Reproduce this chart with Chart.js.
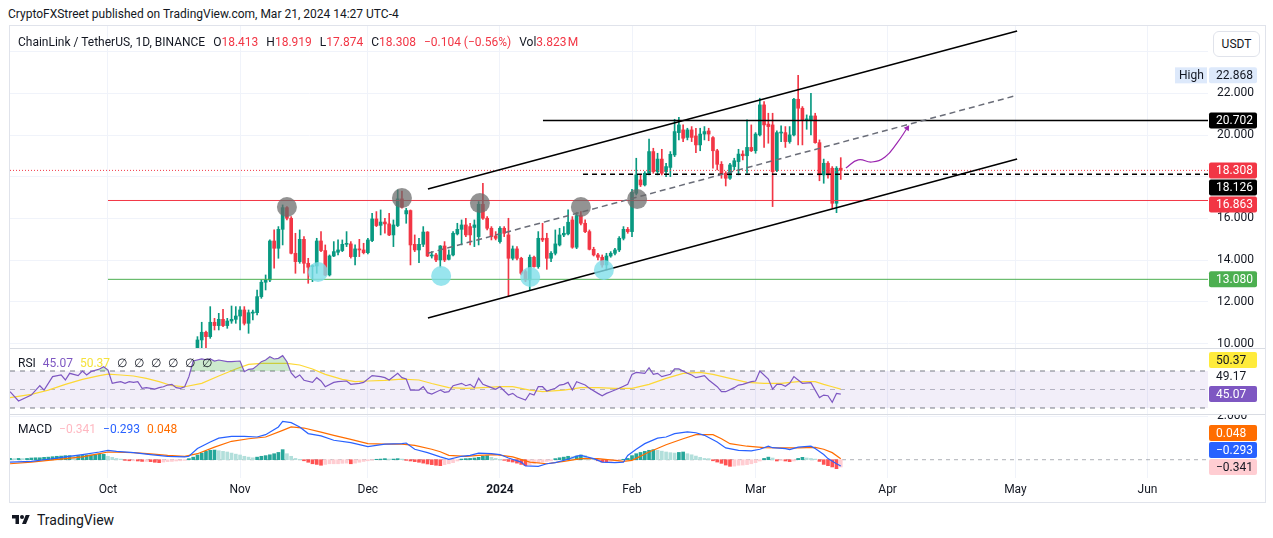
<!DOCTYPE html>
<html>
<head>
<meta charset="utf-8">
<title>ChainLink / TetherUS 1D</title>
<script src="https://cdn.jsdelivr.net/npm/chart.js@4.4.1/dist/chart.umd.min.js"></script>
<style>
  html, body { margin: 0; padding: 0; background: #fff; }
  body { width: 1273px; height: 538px; position: relative; overflow: hidden;
         font-family: Roboto, "Noto Sans", sans-serif; color: #131722; }
  .abs { position: absolute; white-space: nowrap; }
  canvas { position: absolute; }
  #published { left: 8px; top: 7px; font-size: 12px; }
  #frame { left: 9px; top: 25px; width: 1257px; height: 478px; border: 1px solid #e0e3eb; box-sizing: border-box; }
  .sep { position: absolute; left: 10px; width: 1255px; height: 1px; background: #d9dce3; }
  #legend { left: 18px; top: 35px; font-size: 12px; }
  #legend span { margin-right: 8px; }
  #legend b, #legend i { font-weight: normal; font-style: normal; color: #f23645; }
  #usdt { left: 1213px; top: 31px; width: 45px; height: 24px; border: 1px solid #e0e3eb; border-radius: 6px;
          font-size: 12px; line-height: 24px; text-align: center; background: #fff; }
  #rsiLegend { left: 18px; top: 356px; font-size: 12px; }
  #rsiLegend span { margin-right: 7px; }
  #macdLegend { left: 18px; top: 422px; font-size: 12px; }
  #macdLegend span { margin-right: 7px; }
  #logo { left: 10px; top: 512px; font-size: 14px; display: flex; align-items: center; }
  #logo svg { margin-right: 5px; }
</style>
</head>
<body>
<div id="published" class="abs">CryptoFXStreet published on TradingView.com, Mar 21, 2024 14:27 UTC-4</div>
<div id="frame" class="abs"></div>

<canvas id="mainChart" width="1255" height="322" style="left:10px;top:26px"></canvas>
<canvas id="rsiChart" width="1255" height="65" style="left:10px;top:349px"></canvas>
<canvas id="macdChart" width="1255" height="87" style="left:10px;top:415px"></canvas>

<div class="sep" style="top:348px"></div>
<div class="sep" style="top:414px"></div>

<div id="legend" class="abs"><span>ChainLink / TetherUS, 1D, BINANCE</span><span>O<b>18.413</b></span><span>H<b>18.919</b></span><span>L<b>17.874</b></span><span>C<b>18.308</b></span><span><i>&minus;0.104 (&minus;0.56%)</i></span><span>Vol<b>3.823&#8202;M</b></span></div>
<div id="usdt" class="abs">USDT</div>

<div id="rsiLegend" class="abs"><span>RSI</span><span style="color:#7e57c2">45.07</span><span style="color:#f5e23c">50.37</span><span>&empty;</span><span>&empty;</span><span>&empty;</span><span>&empty;</span><span>&empty;</span><span>&empty;</span></div>
<div id="macdLegend" class="abs"><span>MACD</span><span style="color:#ffb8c1">&minus;0.341</span><span style="color:#2962ff">&minus;0.293</span><span style="color:#ff6d00">0.048</span></div>

<div id="logo" class="abs">
  <svg width="22" height="14" viewBox="0 0 36 28"><path d="M14 22H7V11H0V4h14v18zM28 22h-8l7.5-18h8L28 22z" fill="#131722"/><circle cx="20" cy="8" r="4" fill="#131722"/></svg>
  <span>TradingView</span>
</div>

<script>
// ---- data (days counted from 1 Oct 2023) ----
const monthTicks = [0, 31, 61, 92, 123, 152, 183, 213, 244];
const monthLabels = ['Oct', 'Nov', 'Dec', '2024', 'Feb', 'Mar', 'Apr', 'May', 'Jun'];
const priceTicks = [10, 12, 14, 16, 18, 20, 22, 24];
const hiddenPriceTicks = [18, 24];

const firstCandleDay = 21;
const opens = [9.77,10.17,10.54,10.33,11.02,10.86,11.16,10.86,11.08,11.16,11.32,11.61,10.97,11.46,11.48,12.25,12.94,13.05,14.92,14.57,
  15.48,16.52,16.01,14.33,13.93,15.00,13.85,13.69,13.72,14.92,14.46,13.29,14.20,14.38,14.46,14.76,14.78,14.17,14.54,14.49,
  14.36,14.94,15.98,15.67,15.83,15.74,15.21,15.66,16.94,16.22,16.38,14.76,14.49,14.76,15.35,14.20,14.25,14.01,14.68,14.04,
  14.25,15.26,15.48,15.69,15.61,15.57,15.13,16.68,16.01,15.53,15.16,14.89,15.53,15.21,14.09,14.54,14.09,13.45,13.05,14.14,
  13.69,15.05,15.05,14.09,14.33,14.73,15.21,15.26,15.93,14.62,16.14,15.77,15.37,14.52,14.25,14.14,13.77,14.20,14.33,14.49,
  15.05,15.48,15.37,17.21,17.85,17.61,18.17,19.21,18.25,18.85,18.25,18.45,19.05,20.12,20.25,19.89,20.25,19.96,19.53,20.05,
  20.20,19.88,19.25,18.60,18.17,17.93,18.49,18.73,19.09,19.01,19.41,19.25,20.01,21.45,20.53,20.49,18.30,20.10,20.12,19.69,
  20.01,21.72,21.29,20.73,20.73,20.92,19.64,18.09,18.65,18.41,16.73,18.413];
const highs = [10.33,11.02,10.60,11.77,11.21,11.45,11.64,11.21,11.80,11.77,11.77,11.77,11.61,11.61,12.57,13.05,13.29,14.97,15.45,15.61,
  16.65,16.57,16.09,15.29,15.45,15.13,14.09,13.77,15.05,15.37,14.73,14.25,14.89,14.97,14.97,15.37,14.89,14.73,15.00,14.81,
  15.05,16.25,16.33,16.41,16.01,16.25,15.93,17.37,17.32,16.49,16.41,15.21,15.05,15.61,15.37,14.41,14.33,14.70,14.89,14.49,
  15.37,15.77,15.93,16.01,15.77,15.93,16.81,17.69,16.09,15.61,15.37,15.61,15.61,16.01,14.68,14.65,14.14,13.53,14.25,14.20,
  15.37,15.77,15.29,14.41,15.45,15.53,15.61,16.41,16.09,16.28,16.33,15.93,15.45,14.62,14.33,14.25,14.33,14.41,14.57,15.13,
  15.61,15.57,17.40,18.89,18.09,18.25,19.81,19.37,19.13,19.32,18.65,19.21,20.76,20.85,20.49,20.33,20.41,20.33,20.33,20.41,
  20.33,19.93,19.32,18.73,18.25,18.65,18.89,19.32,19.25,20.73,20.49,20.12,21.77,21.61,21.05,21.05,20.21,20.44,20.41,20.41,
  21.77,22.868,21.37,20.97,22.01,21.05,19.77,18.85,18.73,18.49,18.49,18.919];
const lows = [9.61,9.77,9.80,10.25,10.65,10.65,10.81,10.73,10.97,10.97,10.65,10.89,10.49,11.13,11.37,12.17,12.57,12.97,13.61,14.09,
  14.73,15.93,14.30,13.37,13.85,13.37,12.89,12.97,13.37,14.41,13.25,13.24,14.17,14.25,14.41,14.65,14.10,13.77,14.17,14.30,
  14.30,14.89,15.61,15.21,15.29,15.18,14.65,15.61,16.49,15.77,13.77,14.41,13.88,14.65,14.17,14.10,13.93,13.66,13.93,14.01,
  14.20,15.21,14.73,15.13,14.73,14.65,14.73,15.96,15.45,14.97,14.97,14.81,15.13,12.25,14.01,14.01,13.29,12.97,12.57,13.66,
  13.61,14.89,13.56,13.93,14.25,14.68,15.13,15.21,14.57,14.55,15.69,15.32,14.49,14.20,14.01,13.66,13.53,14.14,14.25,14.41,
  14.97,15.29,15.13,17.13,17.53,17.56,18.09,18.17,18.09,18.09,18.01,18.01,18.97,19.77,19.69,19.77,19.69,19.16,19.25,19.77,
  19.73,18.41,18.33,17.93,17.56,17.88,18.33,18.09,18.81,18.17,19.21,19.13,19.96,19.41,19.61,16.57,18.25,19.69,19.41,19.61,
  19.96,19.53,19.53,20.28,20.01,19.61,17.81,17.69,17.93,16.49,16.28,17.874];
const closes = [10.17,10.54,10.33,11.02,10.86,11.16,10.86,11.08,11.16,11.32,11.61,10.97,11.48,11.48,12.25,12.94,13.05,14.92,14.57,15.48,
  16.52,16.01,14.33,13.93,15.00,13.85,13.66,13.72,14.92,14.46,13.29,14.20,14.41,14.49,14.76,14.78,14.17,14.54,14.49,14.36,
  14.97,15.98,15.66,15.83,15.74,15.21,15.69,16.94,16.54,16.38,14.73,14.49,14.76,15.35,14.20,14.25,14.01,14.68,14.01,14.25,
  15.29,15.48,15.69,15.21,15.21,15.69,16.68,16.01,15.53,15.13,15.05,15.53,15.29,14.09,14.54,14.09,13.37,13.05,14.14,13.69,
  15.05,14.97,14.09,14.33,14.78,15.21,15.29,15.82,14.62,16.14,15.77,15.37,14.52,14.25,14.14,13.77,14.20,14.33,14.49,15.05,
  15.48,15.37,17.25,18.09,17.61,18.17,19.21,18.25,18.85,18.17,18.49,19.08,20.17,20.49,19.85,20.25,19.89,19.53,20.05,20.17,
  20.05,19.25,18.60,18.17,17.93,18.57,18.77,19.09,19.01,19.41,19.25,20.05,21.45,20.49,20.41,18.25,20.12,20.14,19.69,20.01,
  21.72,21.29,20.70,20.77,20.92,19.64,18.09,18.65,18.09,16.73,18.41,18.308];

// drawn levels and channel
const levelRed = 16.863, levelGreen = 13.080, levelBlack = 20.702, levelDashed = 18.126, lastPrice = 18.308, highPrice = 22.868;
const levelStartDay = 0, blackStartDay = 102.1, dashedStartDay = 111.5;
const channelDays = [75.1, 213.4];
const channelUpper = [17.415, 24.996];
const channelMiddle = [14.334, 21.911];
const channelLower = [11.225, 18.854];
const topMarkDays = [42.0, 69.0, 87.3, 111.0, 124.2];
const topMarkPrices = [16.55, 16.98, 16.74, 16.55, 16.93];
const bottomMarkDays = [49.3, 78.2, 99.1, 116.4];
const bottomMarkPrices = [13.43, 13.24, 13.19, 13.53];
const arrowDays = [173.2, 176.1, 179.3, 182.4, 185.2, 187.6];
const arrowPrices = [18.42, 18.81, 18.71, 18.95, 19.62, 20.34];

// RSI
const rsiDays = [-23,-21,-18,-16,-15,-13,-11,-10,-9,-7,-6,-5,-4,-2,-1,0,1,2,3,4,5,6,7,8,9,11,12,13,14,15,16,17,18,19,20,22,23,24,25,26,
  28,29,31,32,33,34,35,36,37,38,39,40,41,42,43,44,45,46,48,49,50,51,53,54,56,57,59,60,62,64,65,66,68,69,70,71,73,74,
  75,76,78,79,80,81,83,84,85,86,87,88,90,91,92,94,95,96,98,99,100,101,102,103,105,106,107,108,109,110,112,113,115,116,117,118,
  120,122,123,124,126,127,128,129,130,132,133,134,136,137,138,140,141,143,144,145,147,148,149,151,152,153,155,156,157,158,159,160,
  161,162,163,165,167,168,169,170,171,172];
const rsiValues = [47.6,37.6,44.0,54.1,49.4,63.9,65.7,60.3,67.5,65.0,70.0,65.7,69.3,72.2,74.7,71.1,56.7,57.7,58.5,56.7,58.5,57.7,58.5,51.3,52.0,
  50.5,52.0,53.0,54.8,55.6,52.0,51.3,53.0,63.9,80.8,83.0,82.2,83.0,80.8,81.9,80.1,80.1,80.8,69.3,71.8,72.2,75.8,80.1,81.9,85.5,
  83.0,83.7,86.6,80.1,68.0,62.8,65.7,60.0,57.7,62.8,59.2,53.0,57.7,58.5,59.2,55.6,56.7,57.7,65.0,63.9,62.8,60.3,67.5,62.8,61.3,
  49.4,49.4,53.0,46.6,45.1,49.4,46.9,47.6,54.1,56.7,54.1,55.6,52.0,62.1,55.6,52.0,50.2,53.0,44.0,45.8,42.2,38.6,45.8,44.0,53.0,
  53.0,48.4,51.3,54.8,55.6,57.7,49.4,58.5,54.8,51.3,45.8,43.3,45.8,47.6,51.3,55.6,66.4,68.5,67.5,73.6,66.4,67.5,63.9,66.4,72.2,
  72.2,67.5,65.7,62.8,65.0,60.3,53.0,47.6,47.6,52.0,54.8,55.6,58.5,59.2,70.0,61.3,50.5,55.6,55.6,53.4,56.7,63.9,60.3,56.7,57.4,
  41.2,44.0,43.3,36.1,45.8,45.07];
const rsiMaDays = [-23,-18,-14,-10,-6,-2,0,3,6,9,12,15,18,22,26,30,33,36,39,42,45,48,51,55,58,61,65,69,73,76,80,84,88,92,95,99,
  102,107,111,115,119,123,127,131,135,139,142,146,150,154,158,162,166,168,170,172];
const rsiMaValues = [41.2,44.8,49.4,55.6,61.0,65.0,66.7,65.7,64.6,62.1,58.5,54.1,53.0,56.7,64.6,72.2,77.2,78.3,78.3,78.3,76.5,72.2,66.4,61.0,
  58.5,59.2,59.9,61.3,60.3,56.5,52.0,51.3,52.0,53.0,53.0,49.4,47.6,49.4,52.0,52.0,51.3,51.3,55.6,62.1,67.5,68.5,66.4,62.1,57.7,
  56.7,56.7,58.5,58.5,55.6,53.0,50.37];
const rsiUpper = 70, rsiMiddle = 50, rsiLower = 30;
const rsiExtra = 49.17;

// MACD
const macdDays = [-23,-18,-14,-10,-6,-2,0,2,6,10,14,18,19,21,24,26,29,32,35,37,40,41,43,45,47,50,53,57,61,65,69,70,72,75,78,80,
  83,85,87,90,92,94,97,98,101,103,105,108,110,111,114,116,119,121,122,124,126,129,131,133,136,138,140,143,145,148,151,153,
  155,156,159,160,162,165,166,168,169,171,172];
const macdValues = [-0.11,-0.08,0.02,0.13,0.24,0.36,0.44,0.39,0.33,0.24,0.16,0.13,0.16,0.52,0.83,1.01,1.09,1.09,1.06,1.17,1.53,1.79,
  1.73,1.53,1.22,1.11,0.91,0.80,0.61,0.73,0.75,0.78,0.49,0.33,0.13,0.02,0.16,0.20,0.31,0.28,0.24,0.08,-0.11,-0.29,-0.31,-0.19,
  -0.14,0.02,0.17,0.20,0.05,-0.11,-0.14,-0.11,0.20,0.49,0.75,1.01,1.06,1.22,1.30,1.26,1.14,0.83,0.55,0.44,0.41,0.49,0.63,0.56,
  0.52,0.47,0.59,0.63,0.52,0.24,0.05,-0.19,-0.293];
const signalDays = [-23,-18,-14,-10,-6,-2,0,6,10,14,18,21,25,29,33,37,41,43,46,50,53,57,61,65,69,72,76,78,80,84,87,91,95,99,103,
  107,111,115,119,121,123,127,131,135,138,142,144,146,150,154,158,162,166,168,170,172];
const signalValues = [-0.19,-0.11,-0.03,0.05,0.13,0.28,0.36,0.33,0.27,0.20,0.16,0.28,0.59,0.86,0.98,1.06,1.37,1.53,1.48,1.29,1.14,0.95,
  0.75,0.73,0.73,0.67,0.49,0.37,0.20,0.16,0.20,0.24,0.13,-0.11,-0.19,-0.08,0.05,0.05,-0.03,-0.08,-0.03,0.36,0.70,0.98,1.17,1.17,
  0.98,0.75,0.63,0.56,0.55,0.55,0.58,0.49,0.33,0.048];
const histFirstDay = -23;
const histValues = [0.06,0.05,0.06,0.05,0.06,0.08,0.09,0.09,0.11,0.12,0.14,0.16,0.17,0.19,0.19,0.17,0.19,0.20,0.22,0.22,0.23,0.25,0.25,
  0.16,0.11,0.06,0.03,-0.03,-0.05,-0.05,-0.06,-0.08,-0.08,-0.09,-0.12,-0.14,-0.11,-0.09,-0.08,-0.06,-0.05,-0.03,
  0.05,0.12,0.22,0.31,0.39,0.44,0.45,0.42,0.39,0.36,0.31,0.26,0.22,0.16,0.12,0.09,0.12,0.16,0.19,0.23,0.28,0.34,0.47,0.28,0.16,0.06,0.02,
  -0.05,-0.12,-0.19,-0.22,-0.26,-0.22,-0.19,-0.19,-0.19,-0.17,-0.16,-0.19,-0.16,-0.12,-0.08,-0.05,-0.02,
  0.02,0.03,0.05,0.03,0.03,0.05,0.03,
  -0.03,-0.06,-0.09,-0.12,-0.16,-0.20,-0.23,-0.26,-0.28,-0.23,-0.19,-0.14,-0.06,
  0.03,0.05,0.06,0.08,0.11,0.16,0.19,0.11,0.06,0.02,
  -0.03,-0.08,-0.11,-0.16,-0.22,-0.28,-0.25,-0.19,-0.14,-0.11,-0.08,-0.05,
  0.05,0.09,0.12,0.16,0.14,0.17,0.22,0.19,0.09,0.03,
  -0.05,-0.11,-0.12,-0.09,-0.06,-0.03,
  0.02,0.06,0.19,0.28,0.34,0.39,0.44,0.47,0.44,0.40,0.36,0.33,0.31,0.34,0.36,0.28,0.23,0.17,0.11,0.06,0.05,
  -0.05,-0.11,-0.17,-0.25,-0.31,-0.30,-0.26,-0.25,-0.23,-0.19,-0.14,-0.06,
  0.06,0.12,0.08,
  -0.06,-0.03,-0.06,-0.09,-0.06,
  0.06,0.11,0.08,0.06,0.03,
  -0.08,-0.22,-0.28,-0.34,-0.42,-0.341];

// ---- visible windows ----
const xMin = -23.0, xMax = 258.2;
const priceMin = 9.785, priceMax = 25.236;
const rsiMin = 23.5, rsiMax = 93.8;
const macdMin = -0.855, macdMax = 2.089;

const GREEN = '#089981', RED = '#f23645';
const AXIS_W = 57;
Chart.defaults.font.family = 'Roboto, "Noto Sans", sans-serif';
Chart.defaults.color = '#131722';

const pts = (xs, ys) => xs.map((x, i) => ({ x: x, y: ys[i] }));
const candleDays = opens.map((_, i) => firstCandleDay + i);
const candleColors = opens.map((o, i) => closes[i] >= o ? GREEN : RED);

function xScale(showLabels) {
  return {
    type: 'linear', min: xMin, max: xMax, offset: false,
    afterBuildTicks: s => { s.ticks = monthTicks.map(v => ({ value: v })); },
    afterFit: s => { s.height = showLabels ? 24 : 0; },
    grid: { color: '#f0f3fa', drawTicks: false, offset: false },
    border: { display: false },
    ticks: {
      display: showLabels, padding: 5, maxRotation: 0, autoSkip: false,
      callback: (v, i) => monthLabels[i],
      font: ctx => ({ size: 12, weight: ctx.tick && ctx.tick.value === 92 ? 'bold' : 'normal' })
    }
  };
}
function yScale(min, max, tickValues) {
  return {
    type: 'linear', position: 'right', min: min, max: max,
    afterBuildTicks: s => { s.ticks = tickValues.map(v => ({ value: v })); },
    afterFit: s => { s.width = AXIS_W; },
    grid: { color: '#f0f3fa', drawTicks: false, display: tickValues.length > 0 },
    border: { display: false },
    ticks: { display: false }
  };
}

function tag(ctx, left, y, text, bg, fg) {
  ctx.fillStyle = bg;
  ctx.beginPath();
  ctx.roundRect(left + 1, y - 8, 48, 16, 2);
  ctx.fill();
  ctx.fillStyle = fg;
  ctx.fillText(text, left + 8, y + 0.5);
}
function stackDown(items, gap) {
  items.sort((a, b) => a.y - b.y);
  for (let i = 1; i < items.length; i++) {
    if (items[i].y < items[i - 1].y + gap) items[i].y = items[i - 1].y + gap;
  }
  return items;
}

const baseOptions = {
  responsive: false, animation: false, events: [],
  layout: { padding: 0, autoPadding: false },
  plugins: { legend: { display: false }, tooltip: { enabled: false } }
};

// ---- main price pane ----
const mainOverlay = {
  id: 'mainOverlay',
  afterDraw(chart) {
    const { ctx, chartArea, scales: { y } } = chart;
    const left = chartArea.right;
    ctx.save();
    ctx.font = '12px Roboto, "Noto Sans", sans-serif';
    ctx.textBaseline = 'middle';
    ctx.textAlign = 'left';
    y.ticks.forEach(t => {
      if (hiddenPriceTicks.includes(t.value)) return;
      ctx.fillStyle = '#131722';
      ctx.fillText(t.value.toFixed(3), left + 9, y.getPixelForValue(t.value));
    });
    const levels = stackDown([
      { v: levelBlack, bg: '#000000', fg: '#ffffff' },
      { v: lastPrice, bg: RED, fg: '#ffffff' },
      { v: levelDashed, bg: '#000000', fg: '#ffffff' },
      { v: levelRed, bg: RED, fg: '#ffffff' },
      { v: levelGreen, bg: '#4caf50', fg: '#ffffff' }
    ].map(l => Object.assign(l, { y: y.getPixelForValue(l.v) })), 17);
    levels.forEach(l => tag(ctx, left, l.y, l.v.toFixed(3), l.bg, l.fg));
    const hy = y.getPixelForValue(highPrice);
    ctx.fillStyle = '#dde9fb';
    ctx.fillRect(left - 33, hy - 8, 32, 16);
    ctx.fillStyle = '#131722';
    ctx.fillText('High', left - 29, hy + 0.5);
    tag(ctx, left, hy, highPrice.toFixed(3), '#dde9fb', '#131722');
    ctx.restore();
  }
};

const lineDs = (data, color, width, dash, order) => ({
  type: 'line', data: data, borderColor: color, borderWidth: width, borderDash: dash || [],
  pointRadius: 0, fill: false, order: order, tension: 0
});

new Chart(document.getElementById('mainChart'), {
  type: 'bar',
  data: {
    datasets: [
      { type: 'line', data: pts(topMarkDays, topMarkPrices), showLine: false, pointRadius: 10,
        pointBackgroundColor: 'rgba(105,105,105,0.72)', pointBorderWidth: 0, order: 0 },
      { type: 'line', data: pts(bottomMarkDays, bottomMarkPrices), showLine: false, pointRadius: 10,
        pointBackgroundColor: 'rgba(128,222,234,0.8)', pointBorderWidth: 0, order: 0 },
      Object.assign(lineDs(pts(arrowDays, arrowPrices), '#9c27b0', 1.2, null, 1), {
        tension: 0.45,
        pointRadius: arrowDays.map((_, i) => i === arrowDays.length - 1 ? 3.5 : 0),
        pointStyle: 'triangle', pointRotation: 34,
        pointBackgroundColor: '#9c27b0', pointBorderWidth: 0
      }),
      lineDs(pts(channelDays, channelUpper), '#000000', 1.5, null, 1),
      lineDs(pts(channelDays, channelLower), '#000000', 1.5, null, 1),
      lineDs(pts(channelDays, channelMiddle), '#6a6d78', 1.5, [6, 4], 1),
      lineDs([{ x: levelStartDay, y: levelRed }, { x: xMax, y: levelRed }], RED, 1, null, 2),
      lineDs([{ x: levelStartDay, y: levelGreen }, { x: xMax, y: levelGreen }], '#4caf50', 1, null, 2),
      lineDs([{ x: blackStartDay, y: levelBlack }, { x: xMax, y: levelBlack }], '#000000', 1.5, null, 2),
      lineDs([{ x: dashedStartDay, y: levelDashed }, { x: xMax, y: levelDashed }], '#000000', 1.5, [5, 4], 2),
      lineDs([{ x: xMin, y: lastPrice }, { x: xMax, y: lastPrice }], RED, 1, [1, 2], 2),
      { type: 'bar', data: candleDays.map((d, i) => ({ x: d, y: [opens[i], closes[i]] })),
        backgroundColor: candleColors, barThickness: 3, minBarLength: 1, grouped: false, order: 4 },
      { type: 'bar', data: candleDays.map((d, i) => ({ x: d, y: [lows[i], highs[i]] })),
        backgroundColor: candleColors, barThickness: 1, grouped: false, order: 5 }
    ]
  },
  options: Object.assign({}, baseOptions, {
    scales: { x: xScale(false), y: yScale(priceMin, priceMax, priceTicks) }
  }),
  plugins: [mainOverlay]
});

// ---- RSI pane ----
const rsiOverlay = {
  id: 'rsiOverlay',
  afterDraw(chart) {
    const { ctx, chartArea, scales: { y } } = chart;
    const left = chartArea.right;
    ctx.save();
    ctx.font = '12px Roboto, "Noto Sans", sans-serif';
    ctx.textBaseline = 'middle';
    const base = y.getPixelForValue(rsiValues[rsiValues.length - 1]);
    tag(ctx, left, base, rsiValues[rsiValues.length - 1].toFixed(2), '#7e57c2', '#ffffff');
    ctx.fillStyle = '#131722';
    ctx.fillText(rsiExtra.toFixed(2), left + 8, base - 17);
    tag(ctx, left, base - 34, rsiMaValues[rsiMaValues.length - 1].toFixed(2), '#ffeb3b', '#131722');
    ctx.restore();
  }
};

new Chart(document.getElementById('rsiChart'), {
  type: 'line',
  data: {
    datasets: [
      { data: pts(rsiDays, rsiValues), borderColor: '#7e57c2', borderWidth: 1.2, pointRadius: 0, order: 0,
        fill: { target: { value: rsiUpper }, above: 'rgba(76,175,80,0.28)', below: 'rgba(0,0,0,0)' } },
      { data: pts(rsiMaDays, rsiMaValues), borderColor: '#fdd835', borderWidth: 1.2, pointRadius: 0, fill: false, order: 1 },
      { data: [{ x: xMin, y: rsiUpper }, { x: xMax, y: rsiUpper }], borderColor: '#787b86', borderWidth: 1,
        borderDash: [5, 5], pointRadius: 0, fill: false, order: 2 },
      { data: [{ x: xMin, y: rsiLower }, { x: xMax, y: rsiLower }], borderColor: '#787b86', borderWidth: 1,
        borderDash: [5, 5], pointRadius: 0, fill: '-1', backgroundColor: 'rgba(126,87,194,0.1)', order: 2 },
      { data: [{ x: xMin, y: rsiMiddle }, { x: xMax, y: rsiMiddle }], borderColor: 'rgba(120,123,134,0.5)', borderWidth: 1,
        borderDash: [5, 5], pointRadius: 0, fill: false, order: 2 }
    ]
  },
  options: Object.assign({}, baseOptions, {
    scales: { x: xScale(false), y: yScale(rsiMin, rsiMax, []) }
  }),
  plugins: [rsiOverlay]
});

// ---- MACD pane ----
const histColors = histValues.map((v, i) => {
  const prev = i > 0 ? histValues[i - 1] : v;
  if (v >= 0) return v >= prev ? '#26a69a' : '#b2dfdb';
  return v < prev ? '#ff5252' : '#ffcdd2';
});

const macdOverlay = {
  id: 'macdOverlay',
  afterDraw(chart) {
    const { ctx, chartArea, scales: { y } } = chart;
    const left = chartArea.right;
    ctx.save();
    ctx.font = '12px Roboto, "Noto Sans", sans-serif';
    ctx.textBaseline = 'middle';
    ctx.fillStyle = '#131722';
    // the 2.000 tick label sits on the pane edge and is cut by it
    ctx.fillText((2).toFixed(3), left + 9, y.getPixelForValue(2) - 1);
    const h = histValues[histValues.length - 1];
    const base = y.getPixelForValue(h);
    tag(ctx, left, base, h.toFixed(3).replace('-', '\u2212'), '#ffcdd2', '#131722');
    tag(ctx, left, base - 17, macdValues[macdValues.length - 1].toFixed(3).replace('-', '\u2212'), '#2962ff', '#ffffff');
    tag(ctx, left, base - 34, signalValues[signalValues.length - 1].toFixed(3), '#ff6d00', '#ffffff');
    ctx.restore();
  }
};

new Chart(document.getElementById('macdChart'), {
  type: 'bar',
  data: {
    datasets: [
      { type: 'line', data: pts(macdDays, macdValues), borderColor: '#2962ff', borderWidth: 1.2, pointRadius: 0, fill: false, order: 0 },
      { type: 'line', data: pts(signalDays, signalValues), borderColor: '#ff6d00', borderWidth: 1.2, pointRadius: 0, fill: false, order: 1 },
      { type: 'line', data: [{ x: xMin, y: 0 }, { x: xMax, y: 0 }], borderColor: 'rgba(120,123,134,0.6)', borderWidth: 1,
        borderDash: [4, 4], pointRadius: 0, fill: false, order: 3 },
      { type: 'bar', data: histValues.map((v, i) => ({ x: histFirstDay + i, y: v })),
        backgroundColor: histColors, barThickness: 3, grouped: false, order: 2 }
    ]
  },
  options: Object.assign({}, baseOptions, {
    scales: { x: xScale(true), y: yScale(macdMin, macdMax, [2]) }
  }),
  plugins: [macdOverlay]
});
</script>
</body>
</html>
